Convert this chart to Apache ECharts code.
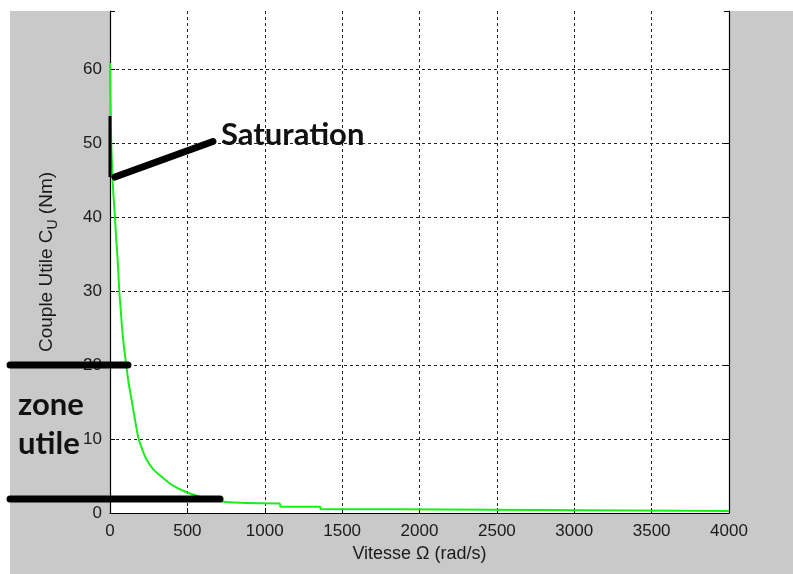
<!DOCTYPE html>
<html>
<head>
<meta charset="utf-8">
<script src="https://cdn.jsdelivr.net/npm/echarts@6/dist/echarts.min.js"></script>
<style>
html,body{margin:0;padding:0;background:#fff;}
#chart{width:793px;height:574px;}
</style>
</head>
<body>
<div id="chart"></div>
<script>
// ---- data ----
// main curve (smooth part)
const omegaCurve  = [0, 3, 8, 15, 22, 32, 40, 47, 54, 60, 70, 78, 90, 105, 120, 142, 160, 183, 210, 237, 280, 334, 400, 495, 600, 711, 840, 1100];
const coupleCurve = [60.8, 56, 50, 46, 43, 40, 37, 35, 32.5, 30, 27.3, 25, 22.5, 20, 17.6, 15, 12.8, 10.2, 8.5, 7.2, 5.9, 4.9, 3.8, 2.8, 2.1, 1.6, 1.39, 1.3];
// tail (stair steps of the plotted curve)
const omegaTail   = [1100, 1100, 1360, 1360, 1850, 1850, 4000];
const coupleTail  = [1.3, 0.85, 0.85, 0.5, 0.5, 0.27, 0.27];
const xTicks = [0, 500, 1000, 1500, 2000, 2500, 3000, 3500, 4000];
const yTicks = [0, 10, 20, 30, 40, 50, 60];
const xTitle = 'Vitesse Ω (rad/s)';
const yTitle = 'Couple Utile C{sub|U} (Nm)';
// annotation anchors (data units)
const satLine   = [[32, 45.4], [665, 50.2]];
const satText   = [717, 51.1];
const zoneTop   = [[-646, 20], [116, 20]];
const zoneBot   = [[-646, 1.9], [711, 1.9]];

const chart = echarts.init(document.getElementById('chart'), null, {renderer: 'canvas'});
const axisFont = {fontFamily: 'Liberation Sans, Arial, sans-serif', fontSize: 17, color: '#1a1a1a'};
const gridLine = {show: true, showMaxLine: false, lineStyle: {color: '#222', width: 1, type: [3, 3]}};
const green = '#1aee1a';

const option = {
  animation: false,
  backgroundColor: '#ffffff',
  grid: {left: 110, right: 64, top: 11, bottom: 61, show: true, backgroundColor: '#ffffff', borderWidth: 0},
  xAxis: {
    type: 'value', min: xTicks[0], max: xTicks[xTicks.length - 1], interval: 500,
    name: xTitle, nameLocation: 'middle', nameGap: 32,
    nameTextStyle: {fontFamily: 'Liberation Sans, Arial, sans-serif', fontSize: 18, color: '#1a1a1a'},
    axisLine: {show: true, onZero: false, lineStyle: {color: '#000', width: 1.2}},
    axisTick: {show: true, inside: true, length: 5, lineStyle: {color: '#000'}},
    axisLabel: Object.assign({margin: 10, formatter: v => String(v)}, axisFont),
    splitLine: gridLine
  },
  yAxis: [{
    type: 'value', min: 0, max: 67.84, interval: 10,
    name: yTitle, nameLocation: 'middle', nameGap: 50,
    nameTextStyle: {fontFamily: 'Liberation Sans, Arial, sans-serif', fontSize: 19, color: '#1a1a1a',
      rich: {sub: {fontFamily: 'Liberation Sans, Arial, sans-serif', fontSize: 14, color: '#1a1a1a', padding: [12, 0, 0, 0]}}},
    axisLine: {show: true, onZero: false, lineStyle: {color: '#000', width: 1.2}},
    axisTick: {show: true, inside: true, length: 5, lineStyle: {color: '#000'}},
    axisLabel: Object.assign({margin: 8, formatter: v => (yTicks.indexOf(v) >= 0 ? String(v) : '')}, axisFont),
    splitLine: gridLine
  }, {
    type: 'value', min: 0, max: 67.84, interval: 10, position: 'right',
    axisLine: {show: true, onZero: false, lineStyle: {color: '#000', width: 1.2}},
    axisTick: {show: true, inside: true, length: 5, lineStyle: {color: '#000'}},
    axisLabel: {show: false}, splitLine: {show: false}
  }],
  series: [{
    type: 'line', showSymbol: false, symbol: 'none', clip: true, smooth: 0.25,
    data: omegaCurve.map((o, i) => [o, coupleCurve[i]]),
    lineStyle: {color: green, width: 2}, z: 3
  }, {
    type: 'line', showSymbol: false, symbol: 'none', clip: true, smooth: false,
    data: omegaTail.map((o, i) => [o, coupleTail[i]]),
    lineStyle: {color: green, width: 2}, z: 3
  }]
};
chart.setOption(option);

function px(p) { return chart.convertToPixel({xAxisIndex: 0, yAxisIndex: 0}, p); }
function seg(a, b, w) {
  const p1 = px(a), p2 = px(b);
  return {type: 'line', shape: {x1: p1[0], y1: p1[1], x2: p2[0], y2: p2[1]},
          style: {stroke: '#000', lineWidth: w, lineCap: 'round'}, z: 100};
}
const tp = px(satText);
const annoFont = 'bold 31px Lato, "Open Sans", sans-serif';
chart.setOption({
  graphic: [
    {type: 'rect', shape: {x: 10, y: 11, width: 783, height: 563}, style: {fill: '#c9c9c9'}, z: -100, silent: true},
    seg(zoneTop[0], zoneTop[1], 7),
    seg(zoneBot[0], zoneBot[1], 7),
    seg(satLine[0], satLine[1], 7),
    {type: 'line', shape: {x1: 110, y1: 116, x2: 110, y2: 177}, style: {stroke: '#000', lineWidth: 3}, z: 99},
    {type: 'text', x: tp[0], y: tp[1], style: {text: 'Saturation', font: annoFont, fill: '#111', textVerticalAlign: 'middle'}, z: 100},
    {type: 'text', x: 18, y: 405, style: {text: 'zone', font: annoFont, fill: '#111', textVerticalAlign: 'middle'}, z: 100},
    {type: 'text', x: 18, y: 444, style: {text: 'utile', font: annoFont, fill: '#111', textVerticalAlign: 'middle'}, z: 100}
  ]
});
</script>
</body>
</html>
